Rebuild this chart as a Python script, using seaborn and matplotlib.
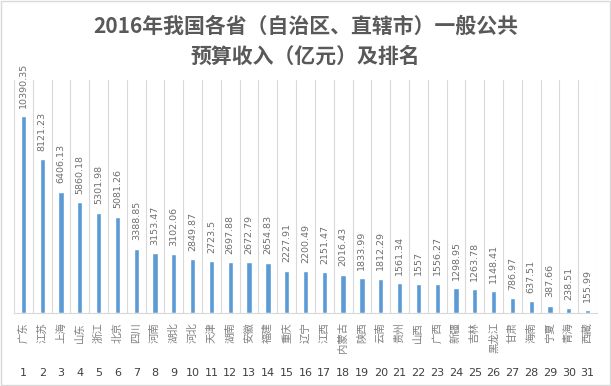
"""
Bar chart: 2016 general public budget revenue by province, with rank table below.
"""
import numpy as np
import pandas as pd
import seaborn as sns
import matplotlib
matplotlib.use("Agg")
import matplotlib.pyplot as plt
import matplotlib.patches as mpatches
import matplotlib.transforms as mtransforms

# --------------------------------------------------------------------------- #
# Data
# --------------------------------------------------------------------------- #
PROVINCES = [
    "广东", "江苏", "上海", "山东", "浙江", "北京", "四川", "河南", "湖北", "河北",
    "天津", "湖南", "安徽", "福建", "重庆", "辽宁", "江西", "内蒙古", "陕西", "云南",
    "贵州", "山西", "广西", "新疆", "吉林", "黑龙江", "甘肃", "海南", "宁夏", "青海",
    "西藏",
]
REVENUE = [
    10390.35, 8121.23, 6406.13, 5860.18, 5301.98, 5081.26, 3388.85, 3153.47,
    3102.06, 2849.87, 2723.5, 2697.88, 2672.79, 2654.83, 2227.91, 2200.49,
    2151.47, 2016.43, 1833.99, 1812.29, 1561.34, 1557, 1556.27, 1298.95,
    1263.78, 1148.41, 786.97, 637.51, 387.66, 238.51, 155.99,
]
RANKS = [str(i) for i in range(1, len(PROVINCES) + 1)]

TITLE = "2016年我国各省（自治区、直辖市）一般公共\n预算收入（亿元）及排名"

BAR_COLOR = "#5b9bd5"
GRID_COLOR = "#d9d9d9"
TEXT_GRAY = "#595959"

# --------------------------------------------------------------------------- #
# Style
# --------------------------------------------------------------------------- #
sns.set_style("white")
plt.rcParams["font.family"] = ["Noto Sans CJK SC", "DejaVu Sans"]

df = pd.DataFrame({"rank": RANKS, "province": PROVINCES, "revenue": REVENUE})

fig, ax = plt.subplots(figsize=(6.11, 3.86), dpi=100)
fig.subplots_adjust(left=14 / 611, right=597 / 611, top=1 - 80 / 386, bottom=1 - 313 / 386)

sns.barplot(data=df, x="rank", y="revenue", color=BAR_COLOR, width=0.28,
            saturation=1, ax=ax)

ax.set_ylim(0, 12300)
ax.set_xlim(-0.5, len(RANKS) - 0.5)
ax.set_xlabel("")
ax.set_ylabel("")
ax.set_yticks([])

# value labels above bars
ax.bar_label(ax.containers[0], labels=[str(v) for v in REVENUE], rotation=90,
             padding=6, fontsize=6.8, color="#6e6e6e", family="DejaVu Sans")

# category boundaries: minor ticks extend down into the table, grid above
bounds = np.arange(-0.5, len(RANKS), 1.0)
ax.set_xticks(bounds, minor=True)
ax.tick_params(axis="x", which="minor", length=48, width=0.8, color=GRID_COLOR,
               direction="out")
ax.grid(True, axis="x", which="minor", color=GRID_COLOR, linewidth=0.8)
ax.tick_params(axis="x", which="major", length=0, pad=39.5, labelsize=8,
               labelcolor="#404040")
for lab in ax.get_xticklabels():
    lab.set_family("DejaVu Sans")

for side in ["top", "left", "right"]:
    ax.spines[side].set_visible(False)
ax.spines["bottom"].set_color(GRID_COLOR)
ax.spines["bottom"].set_linewidth(0.8)

# province names, rotated, under the axis
trans = mtransforms.blended_transform_factory(ax.transData, ax.transAxes)
for i, name in enumerate(PROVINCES):
    ax.text(i, -0.04, name, rotation=90, ha="center", va="top", fontsize=7.5,
            color="#7f7f7f", transform=trans)

# title
fig.text(0.5, 0.893, TITLE, ha="center", va="center", fontsize=15,
         fontweight="bold", color=TEXT_GRAY, linespacing=1.5)

# outer chart border
fig.patches.append(mpatches.Rectangle((0.5 / 611, 1.5 / 386), 609 / 611, 384 / 386,
                                      transform=fig.transFigure, fill=False,
                                      edgecolor=GRID_COLOR, linewidth=1))

fig.savefig("out.png", dpi=100, facecolor="white")
